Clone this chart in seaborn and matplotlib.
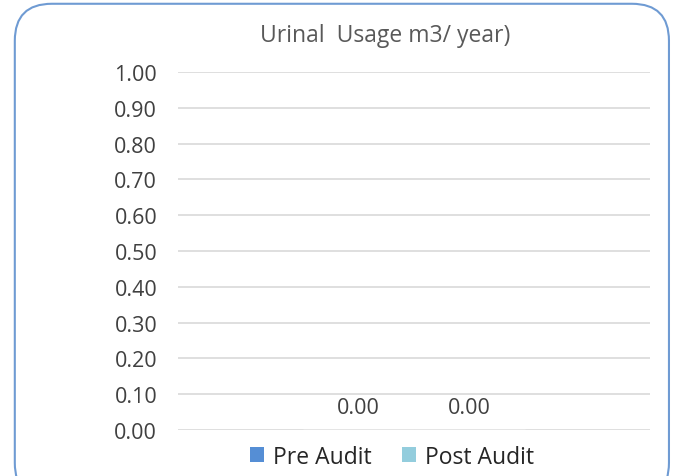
import pandas as pd
import matplotlib.pyplot as plt
import seaborn as sns
from matplotlib.patches import FancyBboxPatch, Patch

# Chart data
categories = ["Urinal"]
series = ["Pre Audit", "Post Audit"]
values = [0.00, 0.00]
y_ticks = [0.0, 0.1, 0.2, 0.3, 0.4, 0.5, 0.6, 0.7, 0.8, 0.9, 1.0]

colors = ["#558ed5", "#93cddd"]

df = pd.DataFrame({
    "category": categories * len(series),
    "series": series,
    "value": values,
})

sns.set_style("white")
plt.rcParams["font.family"] = ["Open Sans", "DejaVu Sans"]

fig = plt.figure(figsize=(6.73, 4.77), dpi=100)
ax = fig.add_axes([0.2645, 0.0964, 0.7015, 0.7506])

sns.barplot(
    data=df,
    x="category",
    y="value",
    hue="series",
    palette=colors,
    width=0.47,
    ax=ax,
    legend=False,
)

for container in ax.containers:
    ax.bar_label(container, fmt="%.2f", padding=9, fontsize=15.5, color="#404040")

ax.set_ylim(0, 1.0)
ax.set_xlim(-0.5, 0.5)
ax.set_yticks(y_ticks)
ax.set_yticklabels([f"{t:.2f}" for t in y_ticks], fontsize=15.5, color="#404040")
ax.tick_params(axis="y", length=0, pad=15)
ax.set_xticks([])
ax.set_xlabel("")
ax.set_ylabel("")
ax.yaxis.grid(True, color="#d9d9d9", linewidth=1.2)
ax.set_axisbelow(True)
for s in ax.spines.values():
    s.set_visible(False)

handles = [Patch(facecolor=c, edgecolor="none", label=s) for c, s in zip(colors, series)]
ax.legend(
    handles=handles,
    loc="center",
    bbox_to_anchor=(0.453, -0.075),
    ncol=2,
    frameon=False,
    fontsize=16.5,
    handlelength=0.62,
    handleheight=0.62,
    handletextpad=0.4,
    columnspacing=1.3,
)

fig.text(0.572, 0.925, "Urinal  Usage m3/ year)", ha="center", va="center",
         fontsize=16.5, color="#595959")

border = FancyBboxPatch(
    (0.022, -0.05), 0.972, 1.04,
    boxstyle="round,pad=0,rounding_size=0.055",
    transform=fig.transFigure,
    facecolor="none",
    edgecolor="#6f9bd3",
    linewidth=1.5,
    mutation_aspect=673 / 477,
)
fig.patches.append(border)

fig.savefig("out.png", dpi=100)
